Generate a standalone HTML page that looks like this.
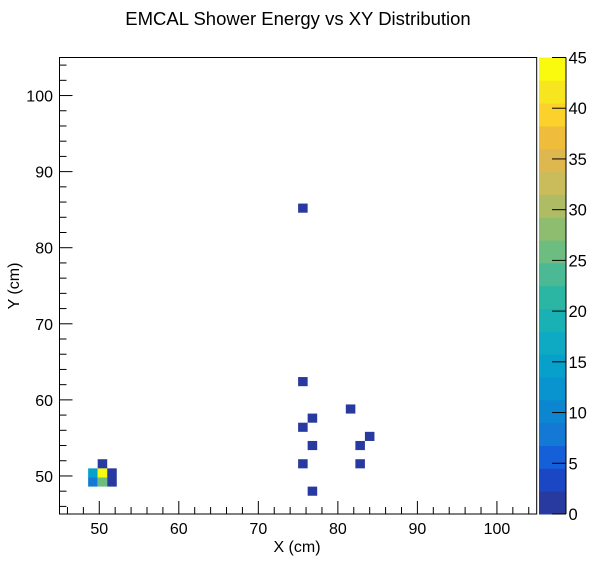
<!DOCTYPE html>
<html><head><meta charset="utf-8"><style>
body{margin:0;background:#fff;}
svg{display:block;font-family:"Liberation Sans",sans-serif;}
</style></head><body>
<svg id="c" width="596" height="572"></svg>
<script>
// Data arrays
const cellXBins = [3,4,5, 3,4,5, 4, 25,30,26,25,32,26,31,25,31,26,25];
const cellYBins = [3,3,3, 4,4,4, 5, 14,11,10,9,8,7,7,5,5,2,33];
const cellValues = [8,25,2, 14.5,44,2, 2, 1,1,1,1,1,1,1,1,1,1,1];
const xTicks = [50,60,70,80,90,100];
const yTicks = [50,60,70,80,90,100];
const zTicks = [0,5,10,15,20,25,30,35,40,45];
const palette = ["#283a9f","#1b47c5","#1560d8","#1379d5","#0c86d0","#0994d0","#07a0cb","#0ea9c3","#1ab1b5","#2bb6a3","#4ab994","#6dbd80","#8fbd70","#aebc63","#cabb5b","#deb84e","#f0bc3b","#fbd12b","#f6e51f","#f9fa0e"];

const NS="http://www.w3.org/2000/svg";
const svg=document.getElementById('c');
const X0=59.5,X1=536.7,Y0=514,Y1=57.5,XMIN=45,XMAX=105,YMIN=45,YMAX=105,BW=1.2,ZMAX=45;
const PX0=539,PX1=566;
function sx(v){return X0+(v-XMIN)/(XMAX-XMIN)*(X1-X0);}
function sy(v){return Y0-(v-YMIN)/(YMAX-YMIN)*(Y0-Y1);}
function sz(v){return Y0-v/ZMAX*(Y0-Y1);}
function mk(t,a,txt){const e=document.createElementNS(NS,t);for(const k in a)e.setAttribute(k,a[k]);if(txt!==undefined)e.textContent=txt;svg.appendChild(e);return e;}
function col(v){let i=Math.floor(v/ZMAX*palette.length);if(i>=palette.length)i=palette.length-1;if(i<0)i=0;return palette[i];}

for(let i=0;i<cellValues.length;i++){
  const x0=sx(XMIN+cellXBins[i]*BW),x1=sx(XMIN+(cellXBins[i]+1)*BW);
  const y0=sy(YMIN+(cellYBins[i]+1)*BW),y1=sy(YMIN+cellYBins[i]*BW);
  const r=mk('rect',{x:x0,y:y0,width:x1-x0,height:y1-y0,fill:col(cellValues[i])});
  
  
}
const f=mk('rect',{x:X0,y:Y1,width:X1-X0,height:Y0-Y1,fill:'none',stroke:'#000','stroke-width':1});

for(let v=46;v<=104;v+=2){const major=v%10===0;const p=sx(v);mk('line',{x1:p,x2:p,y1:Y0,y2:Y0-(major?13:7),stroke:'#000'});}
for(let v=46;v<=104;v+=2){const major=v%10===0;const p=sy(v);mk('line',{x1:X0,x2:X0+(major?13:7),y1:p,y2:p,stroke:'#000'});}
for(const v of xTicks){const t=mk('text',{x:sx(v),y:534,'text-anchor':'middle','font-size':16},v);}
for(const v of yTicks){const t=mk('text',{x:X0-6.5,y:sy(v)+6,'text-anchor':'end','font-size':16},v);}
for(let i=0;i<palette.length;i++){
  const a=i*ZMAX/palette.length,b=(i+1)*ZMAX/palette.length;
  const r=mk('rect',{x:PX0,y:sz(b),width:PX1-PX0,height:sz(a)-sz(b)+0.5,fill:palette[i]});
  
}
mk('line',{x1:PX1,x2:PX1,y1:Y1,y2:Y0,stroke:'#000'});
for(const v of zTicks){const p=sz(v);mk('line',{x1:PX1-14,x2:PX1,y1:p,y2:p,stroke:'#000'});
  const t=mk('text',{x:PX1+2.5,y:p+6,'font-size':16.5},v);}
const tt=mk('text',{x:298,y:25,'text-anchor':'middle','font-size':18.5},'EMCAL Shower Energy vs XY Distribution');

const xt=mk('text',{x:297,y:552,'text-anchor':'middle','font-size':16},'X (cm)');

const yt=mk('text',{x:0,y:0,'text-anchor':'middle','font-size':16,transform:'translate(19,286) rotate(-90)'},'Y (cm)');

</script>
</body></html>
